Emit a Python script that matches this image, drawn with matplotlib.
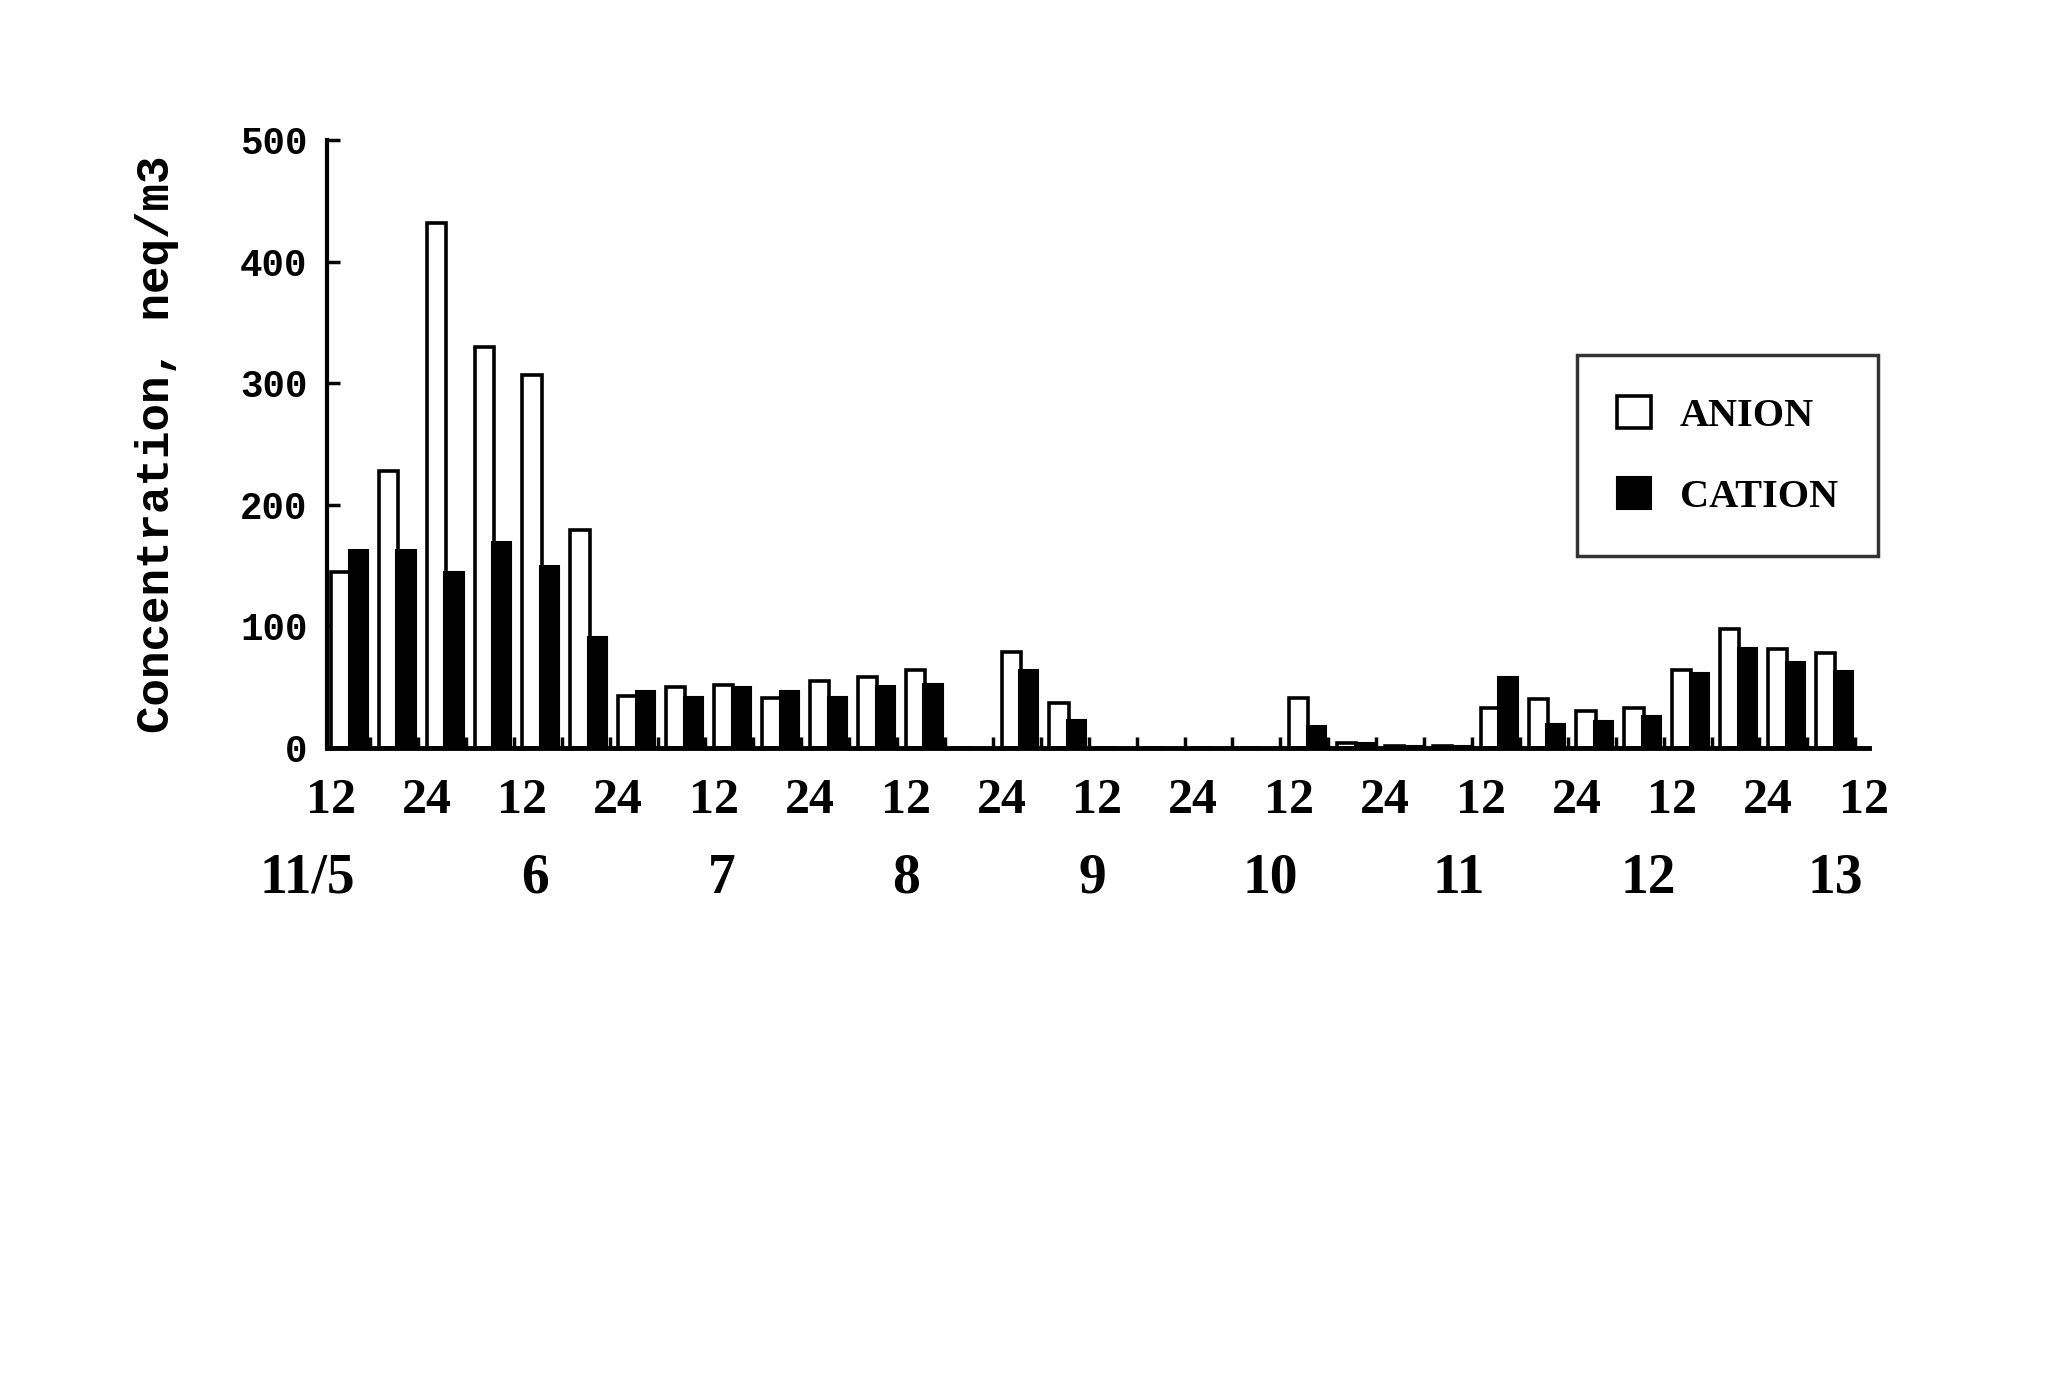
import numpy as np
import matplotlib.pyplot as plt
from matplotlib.transforms import blended_transform_factory

# 6-hour samples from 11/5 12h to 11/13 12h
anion = [145, 228, 432, 330, 307, 179,
         43, 50, 52, 41, 55, 58, 64, 0, 79, 37,
         0, 0, 0, 0, 41, 4, 2, 2,
         33, 40, 30, 33, 64, 98, 81, 78]
cation = [163, 163, 145, 169, 150, 91,
          47, 42, 50, 47, 42, 51, 53, 0, 64, 23,
          0, 0, 0, 0, 18, 4, 2, 2,
          58, 20, 22, 26, 62, 82, 71, 63]
hour_labels = ['12', '24'] * 8 + ['12']
day_labels = ['11/5', '6', '7', '8', '9', '10', '11', '12', '13']

fig = plt.figure(figsize=(20.49, 13.81), dpi=100)
ax = fig.add_axes([0.1596, 0.4584, 0.7524, 0.4402])

x = np.arange(len(anion))
ax.bar(x, anion, width=0.40, align='edge', facecolor='white',
       edgecolor='black', linewidth=2.6, label='ANION', zorder=2)
ax.bar(x + 0.37, cation, width=0.40, align='edge', facecolor='black',
       edgecolor='black', linewidth=1.5, label='CATION', zorder=3)

ax.set_xlim(-0.08, 32.1)
ax.set_ylim(0, 500)

for s in ['top', 'right']:
    ax.spines[s].set_visible(False)
ax.spines['left'].set_linewidth(3.0)
ax.spines['bottom'].set_linewidth(3.5)

# y axis
ax.set_yticks([0, 100, 200, 300, 400, 500])
ax.tick_params(axis='y', direction='in', length=9, width=2.5, pad=14)
for lab in ax.get_yticklabels():
    lab.set_fontfamily('Liberation Mono')
    lab.set_fontweight('bold')
    lab.set_fontsize(27)

# x axis: small upward ticks between sample pairs, labels drawn as text
ax.set_xticks(np.arange(32) + 0.82)
ax.set_xticklabels([])
ax.tick_params(axis='x', direction='in', length=8, width=2.5)

trans = blended_transform_factory(ax.transData, ax.transAxes)
for i, lab in enumerate(hour_labels):
    ax.text(2 * i, -0.088, lab, transform=trans, ha='center', va='center',
            fontfamily='Liberation Serif', fontweight='bold', fontsize=36)

# day labels sit a little off the 12h ticks in the original
day_shift = [-0.5, 0.27, 0.16, 0.0, -0.1, -0.4, -0.45, -0.5, -0.6]
for i, lab in enumerate(day_labels):
    ax.text(4 * i + day_shift[i], -0.215, lab, transform=trans,
            ha='center', va='center',
            fontfamily='Liberation Serif', fontweight='bold', fontsize=40)

fig.text(0.0766, 0.6785, 'Concentration, neq/m3', rotation=90,
         ha='center', va='center', fontfamily='Liberation Mono',
         fontweight='bold', fontsize=33)

leg = ax.legend(loc='upper right', bbox_to_anchor=(1.006, 0.646),
                prop={'family': 'Liberation Serif', 'weight': 'bold', 'size': 29},
                frameon=True, fancybox=False, edgecolor='black',
                borderpad=1.0, labelspacing=1.05, handlelength=0.85,
                handleheight=0.85, handletextpad=0.7, borderaxespad=0)
leg.get_frame().set_linewidth(2.5)

fig.savefig('out.png', dpi=100)
